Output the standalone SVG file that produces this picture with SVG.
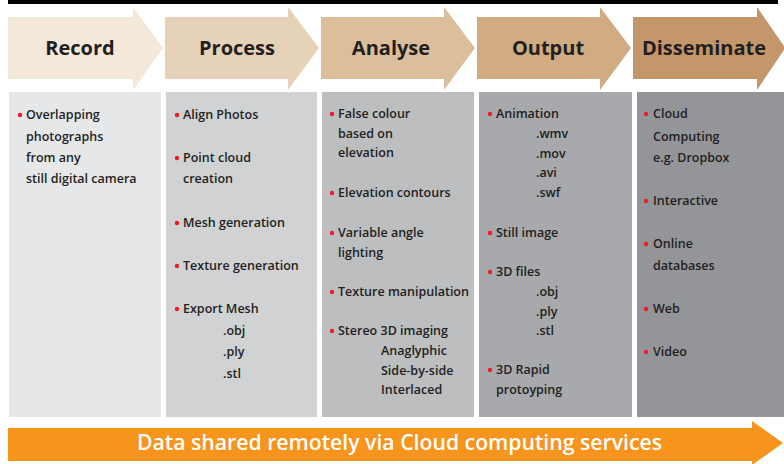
<svg xmlns="http://www.w3.org/2000/svg" width="784" height="464" viewBox="0 0 784 464">
<style>
.hd{font-family:"Open Sans","Noto Sans","Liberation Sans",sans-serif;font-weight:700;font-size:20px;fill:#231f20;text-anchor:middle}
.t{font-family:"Open Sans","Noto Sans","Liberation Sans",sans-serif;font-weight:600;font-size:12.5px;fill:#231f20}
.b{fill:#ed1c24}
.ban{font-family:"Open Sans","Noto Sans","Liberation Sans",sans-serif;font-weight:600;font-size:21px;fill:#ffffff}
</style>
<rect x="0" y="0" width="784" height="464" fill="#ffffff"/>
<rect x="8" y="0" width="770" height="4" fill="#000000"/>

<g id="record">
<polygon points="8,17 133,17 133,7 163,48 133,90 133,79 8,79" fill="#f3e8d9"/>
<text class="hd" x="80" y="55">Record</text>
</g>
<g id="process">
<polygon points="165,17 288,17 288,7 319,48 288,90 288,79 165,79" fill="#e6d2b8"/>
<text class="hd" x="237" y="55">Process</text>
</g>
<g id="analyse">
<polygon points="321,17 444,17 444,7 475,48 444,90 444,79 321,79" fill="#dbbf9d"/>
<text class="hd" x="391" y="55">Analyse</text>
</g>
<g id="output">
<polygon points="477,17 600,17 600,7 631,48 600,90 600,79 477,79" fill="#d1ac83"/>
<text class="hd" x="548" y="55">Output</text>
</g>
<g id="disseminate">
<polygon points="633,17 757,17 757,7 784,46 784,50 757,90 757,79 633,79" fill="#c3976a"/>
<text class="hd" x="704" y="55">Disseminate</text>
</g>

<g id="col-record">
<rect x="9" y="92" width="152" height="325" fill="#e6e7e9"/>
<circle class="b" cx="20" cy="115" r="2.2"/>
<text class="t" x="26" y="119">Overlapping</text>
<text class="t" x="26" y="141">photographs</text>
<text class="t" x="26" y="162">from any</text>
<text class="t" x="26" y="183">still digital camera</text>
</g>

<g id="col-process">
<rect x="166" y="92" width="151" height="325" fill="#d1d2d4"/>
<circle class="b" cx="177" cy="115" r="2.2"/>
<text class="t" x="183" y="119">Align Photos</text>
<circle class="b" cx="177" cy="158" r="2.2"/>
<text class="t" x="183" y="162">Point cloud</text>
<text class="t" x="183" y="183">creation</text>
<circle class="b" cx="177" cy="223" r="2.2"/>
<text class="t" x="183" y="227">Mesh generation</text>
<circle class="b" cx="177" cy="266" r="2.2"/>
<text class="t" x="183" y="270">Texture generation</text>
<circle class="b" cx="177" cy="309" r="2.2"/>
<text class="t" x="183" y="313">Export Mesh</text>
<text class="t" x="223" y="335">.obj</text>
<text class="t" x="223" y="356">.ply</text>
<text class="t" x="223" y="378">.stl</text>
</g>

<g id="col-analyse">
<rect x="322" y="92" width="152" height="325" fill="#bcbec0"/>
<circle class="b" cx="332" cy="114" r="2.2"/>
<text class="t" x="338" y="118">False colour</text>
<text class="t" x="338" y="138">based on</text>
<text class="t" x="338" y="157">elevation</text>
<circle class="b" cx="332" cy="193" r="2.2"/>
<text class="t" x="338" y="197">Elevation contours</text>
<circle class="b" cx="332" cy="233" r="2.2"/>
<text class="t" x="338" y="237">Variable angle</text>
<text class="t" x="338" y="257">lighting</text>
<circle class="b" cx="332" cy="292" r="2.2"/>
<text class="t" x="338" y="296">Texture manipulation</text>
<circle class="b" cx="332" cy="331" r="2.2"/>
<text class="t" x="338" y="335">Stereo 3D imaging</text>
<text class="t" x="381" y="355">Anaglyphic</text>
<text class="t" x="381" y="375">Side-by-side</text>
<text class="t" x="381" y="394">Interlaced</text>
</g>

<g id="col-output">
<rect x="479" y="92" width="153" height="325" fill="#a7a9ac"/>
<circle class="b" cx="490" cy="114" r="2.2"/>
<text class="t" x="496" y="118">Animation</text>
<text class="t" x="536" y="138">.wmv</text>
<text class="t" x="536" y="158">.mov</text>
<text class="t" x="536" y="177">.avi</text>
<text class="t" x="536" y="197">.swf</text>
<circle class="b" cx="490" cy="233" r="2.2"/>
<text class="t" x="496" y="237">Still image</text>
<circle class="b" cx="490" cy="272" r="2.2"/>
<text class="t" x="496" y="276">3D files</text>
<text class="t" x="536" y="296">.obj</text>
<text class="t" x="536" y="316">.ply</text>
<text class="t" x="536" y="335">.stl</text>
<circle class="b" cx="490" cy="370" r="2.2"/>
<text class="t" x="496" y="374">3D Rapid</text>
<text class="t" x="496" y="394">protoyping</text>
</g>

<g id="col-disseminate">
<rect x="637" y="92" width="147" height="325" fill="#939598"/>
<circle class="b" cx="646" cy="114" r="2.2"/>
<text class="t" x="653" y="118">Cloud</text>
<text class="t" x="653" y="141">Computing</text>
<text class="t" x="653" y="162">e.g. Dropbox</text>
<circle class="b" cx="646" cy="201" r="2.2"/>
<text class="t" x="653" y="205">Interactive</text>
<circle class="b" cx="646" cy="244" r="2.2"/>
<text class="t" x="653" y="248">Online</text>
<text class="t" x="653" y="270">databases</text>
<circle class="b" cx="646" cy="309" r="2.2"/>
<text class="t" x="653" y="313">Web</text>
<circle class="b" cx="646" cy="352" r="2.2"/>
<text class="t" x="653" y="356">Video</text>
</g>

<g id="cloud-banner">
<polygon points="8,428 752,428 752,421 783,443 752,465 752,461 8,461" fill="#f7941d"/>
<text class="ban" x="137" y="450" textLength="525" lengthAdjust="spacingAndGlyphs">Data shared remotely via Cloud computing services</text>
</g>
</svg>
